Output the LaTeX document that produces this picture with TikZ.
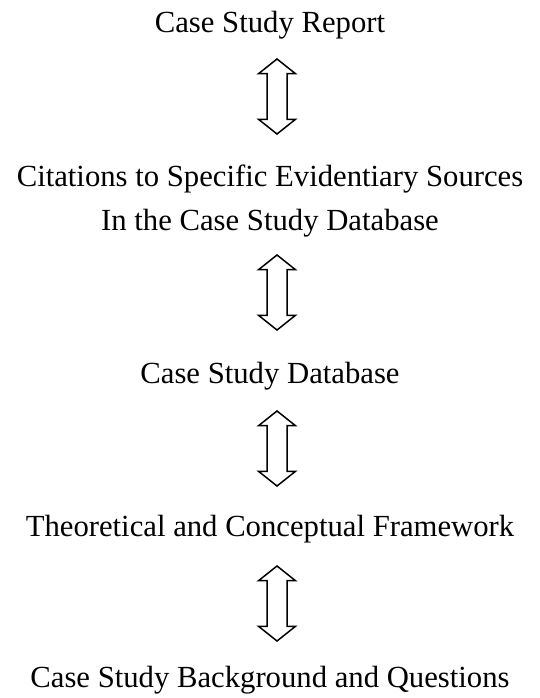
\documentclass[tikz,border=0pt]{standalone}
\usepackage{fontspec}
\setmainfont{Liberation Serif}
\begin{document}
\begin{tikzpicture}[x=1pt,y=1pt,
  label text/.style={anchor=base, inner sep=0pt, font=\fontsize{30.7}{36}\selectfont},
  pics/updown/.style={code={
    \draw[line width=1.5pt, line join=miter, fill=white]
      (0,37.5) -- (18.5,22.8) -- (10,22.8) -- (10,-22.8) -- (18.5,-22.8)
      -- (0,-37.5) -- (-18.5,-22.8) -- (-10,-22.8) -- (-10,22.8)
      -- (-18.5,22.8) -- cycle;
  }}]
  \useasboundingbox (0,0) rectangle (540,-698);

  % stages, top to bottom
  \node[label text] (report) at (270,-33) {Case Study Report};
  \node[label text] (cite1) at (270,-186) {Citations to Specific Evidentiary Sources};
  \node[label text] (cite2) at (270,-230) {In the Case Study Database};
  \node[label text] (db) at (270,-383) {Case Study Database};
  \node[label text] (frame) at (270,-536) {Theoretical and Conceptual Framework};
  \node[label text] (back) at (270,-687) {Case Study Background and Questions};

  % two-way links between stages
  \pic (link1) at (277,-96.5) {updown};
  \pic (link2) at (277,-292.5) {updown};
  \pic (link3) at (277,-448.5) {updown};
  \pic (link4) at (277,-603.5) {updown};
\end{tikzpicture}
\end{document}
